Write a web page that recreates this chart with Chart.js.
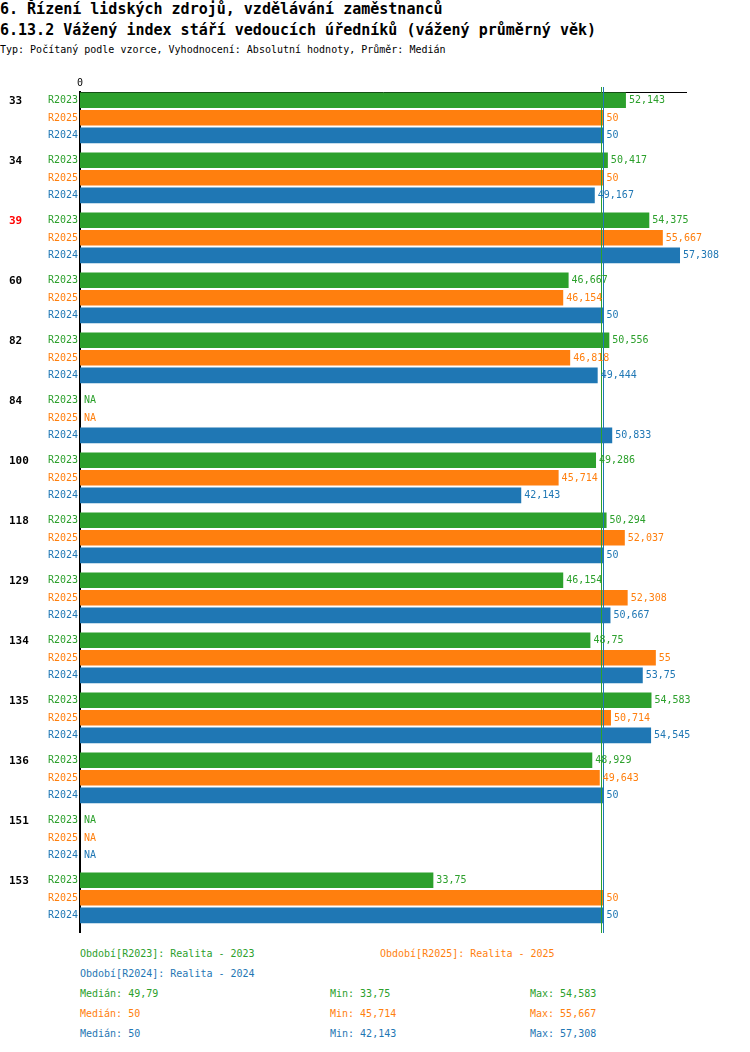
<!DOCTYPE html>
<html>
<head>
<meta charset="utf-8">
<script src="https://cdn.jsdelivr.net/npm/chart.js@4.4.1/dist/chart.umd.min.js"></script>
<style>
  body { margin: 0; background: #fff; font-family: "DejaVu Sans Mono", monospace; }
  #page { position: relative; width: 750px; height: 1052px; overflow: hidden; }
  .t { position: absolute; white-space: pre; line-height: 20px; font-size: 10px; }
  .h { font-size: 15px; font-weight: bold; }
  #chart { position: absolute; left: 0; top: 60px; }
</style>
</head>
<body>
<div id="page">
  <div class="t h" style="left:0;top:-1px">6. Řízení lidských zdrojů, vzdělávání zaměstnanců</div>
  <div class="t h" style="left:0;top:20px">6.13.2 Vážený index stáří vedoucích úředníků (vážený průměrný věk)</div>
  <div class="t" style="left:0;top:40px">Typ: Počítaný podle vzorce, Vyhodnocení: Absolutní hodnoty, Průměr: Medián</div>
  <canvas id="chart" width="750" height="880"></canvas>
  <div id="legend"></div>
</div>
<script>
// groups (office codes) top to bottom
const groups = ['33', '34', '39', '60', '82', '84', '100', '118', '129', '134', '135', '136', '151', '153'];
const highlighted = ['39'];

// series, in the order they are drawn inside each group
const seriesKeys = ['R2023', 'R2025', 'R2024'];
const seriesNames = ['Realita - 2023', 'Realita - 2025', 'Realita - 2024'];
const seriesColors = ['#2ca02c', '#ff7f0e', '#1f77b4'];

const r2023 = [52.143, 50.417, 54.375, 46.667, 50.556, null, 49.286, 50.294, 46.154, 48.75, 54.583, 48.929, null, 33.75];
const r2025 = [50, 50, 55.667, 46.154, 46.818, null, 45.714, 52.037, 52.308, 55, 50.714, 49.643, null, 50];
const r2024 = [50, 49.167, 57.308, 50, 49.444, 50.833, 42.143, 50, 50.667, 53.75, 54.545, 50, null, 50];
const seriesValues = [r2023, r2025, r2024];

const xTicks = [0];

const fmt = v => String(Math.round(v * 1000) / 1000).replace('.', ',');
const present = vals => vals.filter(v => v !== null);
const median = vals => {
  const s = present(vals).sort((a, b) => a - b);
  const m = Math.floor(s.length / 2);
  return s.length % 2 ? s[m] : (s[m - 1] + s[m]) / 2;
};

const overlay = {
  id: 'overlay',
  afterDatasetsDraw(chart) {
    const { ctx, chartArea, scales: { x } } = chart;
    ctx.save();

    // median line per series
    seriesValues.forEach((vals, d) => {
      const px = Math.round(x.getPixelForValue(median(vals))) + 0.5;
      ctx.strokeStyle = seriesColors[d];
      ctx.lineWidth = 1;
      ctx.beginPath();
      ctx.moveTo(px, chartArea.top - 5);
      ctx.lineTo(px, chartArea.bottom + 1);
      ctx.stroke();
    });

    ctx.textBaseline = 'middle';
    seriesValues.forEach((vals, d) => {
      const meta = chart.getDatasetMeta(d);
      meta.data.forEach((bar, i) => {
        const y = bar.y + 0.5;
        ctx.fillStyle = seriesColors[d];
        ctx.font = '10px "DejaVu Sans Mono"';
        ctx.textAlign = 'right';
        ctx.fillText(seriesKeys[d], chartArea.left - 2, y);
        ctx.textAlign = 'left';
        if (vals[i] === null) {
          ctx.fillText('NA', chartArea.left + 4, y);
        } else {
          ctx.fillText(fmt(vals[i]), bar.x + 3, y);
        }
        if (d === 0) {
          ctx.fillStyle = highlighted.includes(groups[i]) ? '#ff0000' : '#000';
          ctx.font = 'bold 11px "DejaVu Sans Mono"';
          ctx.fillText(groups[i], 9, y);
        }
      });
    });
    ctx.restore();
  }
};

new Chart(document.getElementById('chart'), {
  type: 'bar',
  data: {
    datasets: seriesValues.map((vals, d) => ({
      label: seriesKeys[d],
      data: vals.map((v, i) => ({ x: v, y: i })),
      backgroundColor: seriesColors[d],
      borderWidth: 0,
      categoryPercentage: 0.88,
      barPercentage: 0.886,
    })),
  },
  options: {
    indexAxis: 'y',
    responsive: false,
    animation: false,
    layout: { padding: { left: 80, right: 64, top: 18, bottom: 8 } },
    plugins: { legend: { display: false }, tooltip: { enabled: false } },
    scales: {
      x: {
        type: 'linear',
        position: 'top',
        min: 0,
        max: 57.88,
        grid: { display: false, drawTicks: false },
        border: { display: true, color: '#000', width: 1 },
        afterBuildTicks: s => { s.ticks = xTicks.map(v => ({ value: v })); },
        afterFit: s => { s.height = 14; },
        ticks: {
          padding: 3,
          color: '#000',
          font: { family: 'DejaVu Sans Mono', size: 10 },
          callback: v => String(v),
        },
      },
      y: {
        type: 'linear',
        reverse: true,
        offset: false,
        bounds: 'data',
        min: -0.43,
        max: groups.length - 0.43,
        grid: { display: false, drawTicks: false },
        border: { display: true, color: '#000', width: 2 },
        afterBuildTicks: s => { s.ticks = groups.map((g, i) => ({ value: i })); },
        ticks: { display: false },
        afterFit: s => { s.width = 0; },
      },
    },
  },
  plugins: [overlay],
});

// legend and summary lines below the chart
const legend = document.getElementById('legend');
const addText = (text, left, top, color) => {
  const el = document.createElement('div');
  el.className = 't';
  el.style.left = left + 'px';
  el.style.top = top + 'px';
  el.style.color = color;
  el.textContent = text;
  legend.appendChild(el);
};
const legendPos = [[80, 944], [380, 944], [80, 964]];
seriesKeys.forEach((k, d) => {
  addText('Období[' + k + ']: ' + seriesNames[d], legendPos[d][0], legendPos[d][1], seriesColors[d]);
});
seriesValues.forEach((vals, d) => {
  const top = 984 + d * 20;
  addText('Medián: ' + fmt(median(vals)), 80, top, seriesColors[d]);
  addText('Min: ' + fmt(Math.min(...present(vals))), 330, top, seriesColors[d]);
  addText('Max: ' + fmt(Math.max(...present(vals))), 530, top, seriesColors[d]);
});
</script>
</body>
</html>
